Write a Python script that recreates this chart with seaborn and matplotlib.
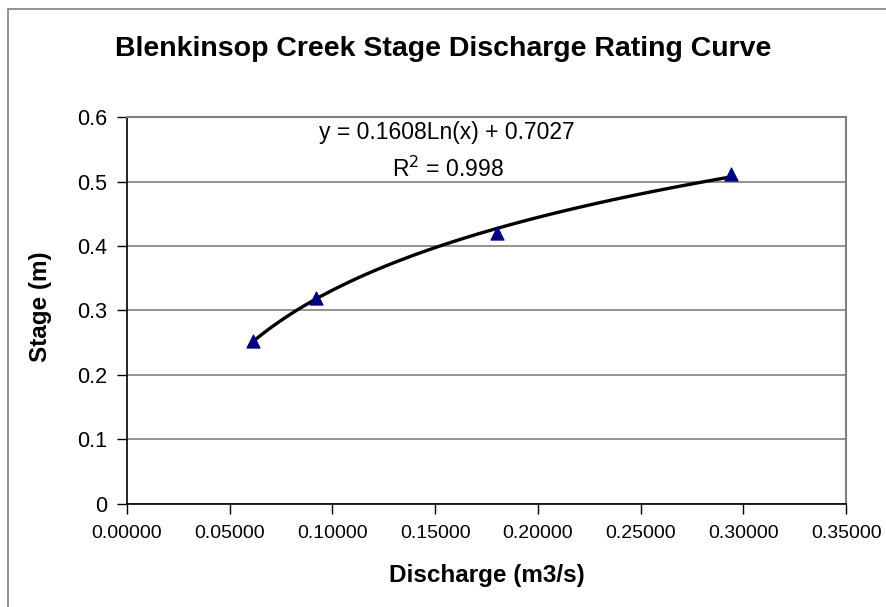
import numpy as np
import pandas as pd
import matplotlib
matplotlib.use("Agg")
import matplotlib.pyplot as plt
import seaborn as sns
from matplotlib.patches import Rectangle

# Données
discharge = [0.0613, 0.0920, 0.1800, 0.2940]
stage = [0.253, 0.319, 0.420, 0.512]
equation = "y = 0.1608Ln(x) + 0.7027"
r_squared = "R$^2$ = 0.998"
x_ticks = [0.0, 0.05, 0.10, 0.15, 0.20, 0.25, 0.30, 0.35]
y_ticks = [0, 0.1, 0.2, 0.3, 0.4, 0.5, 0.6]

df = pd.DataFrame({"Discharge": discharge, "Stage": stage})

sns.set_style("white")
plt.rcParams["font.family"] = ["Liberation Sans", "DejaVu Sans"]
plt.rcParams["text.color"] = "black"
plt.rcParams["axes.labelcolor"] = "black"

fig = plt.figure(figsize=(8.87, 6.07), dpi=100)
ax = fig.add_axes([0.143, 0.170, 0.811, 0.637])

# Courbe de tendance logarithmique
sns.regplot(data=df, x="Discharge", y="Stage", logx=True, ci=None, scatter=False,
            line_kws={"color": "black", "lw": 2.4}, ax=ax)
sns.scatterplot(data=df, x="Discharge", y="Stage", marker="^", s=90,
                color="#000080", edgecolor="#000080", zorder=5, ax=ax)

ax.set_xlim(0, 0.35)
ax.set_ylim(0, 0.6)
ax.set_xticks(x_ticks)
ax.set_xticklabels([f"{v:.5f}" for v in x_ticks])
ax.set_yticks(y_ticks)
ax.set_yticklabels([f"{v:g}" for v in y_ticks])
ax.yaxis.grid(True, color="#808080", lw=1.2)
ax.set_axisbelow(True)
ax.tick_params(axis="both", direction="out", length=7, width=1,
               colors="black", bottom=True, left=True)
ax.tick_params(axis="x", labelsize=14, pad=8)
ax.tick_params(axis="y", labelsize=15.5, pad=7)

for side in ["left", "bottom"]:
    ax.spines[side].set_color("black")
    ax.spines[side].set_linewidth(1.2)
for side in ["top", "right"]:
    ax.spines[side].set_color("#808080")
    ax.spines[side].set_linewidth(1.5)

ax.set_xlabel("Discharge (m3/s)", fontsize=17.5, fontweight="bold", labelpad=16)
ax.set_ylabel("Stage (m)", fontsize=17.5, fontweight="bold", labelpad=14)
ax.yaxis.set_label_coords(-0.104, 0.51)

ax.text(0.1555, 0.5755, equation, fontsize=16.5, ha="center", va="center")
ax.text(0.1560, 0.5195, r_squared, fontsize=16.5, ha="center", va="center")

fig.suptitle("Blenkinsop Creek Stage Discharge Rating Curve", fontsize=20.5,
             fontweight="bold", x=0.500, y=0.940)

# Cadre du graphique
fig.patches.append(Rectangle((8 / 887, -0.05), 1.2, 1 - 9 / 607 + 0.05,
                             transform=fig.transFigure, fill=False,
                             edgecolor="#808080", lw=1.2))

fig.savefig("out.png", dpi=100, facecolor="white")
